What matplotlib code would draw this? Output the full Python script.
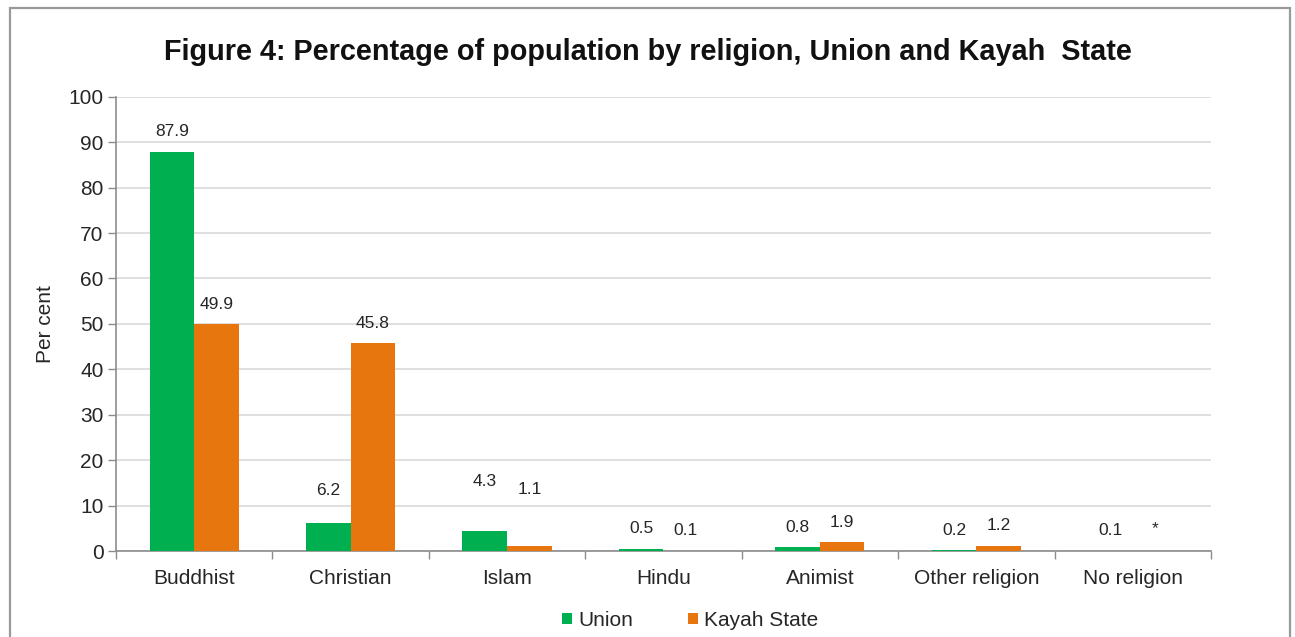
import matplotlib
matplotlib.use("Agg")
import matplotlib.pyplot as plt
from matplotlib.patches import Rectangle
import numpy as np

plt.rcParams['font.family'] = ['Liberation Sans', 'DejaVu Sans']

categories = ["Buddhist", "Christian", "Islam", "Hindu", "Animist",
              "Other religion", "No religion"]
union = [87.9, 6.2, 4.3, 0.5, 0.8, 0.2, 0.1]
kayah = [49.9, 45.8, 1.1, 0.1, 1.9, 1.2, 0.0]
union_labels = ["87.9", "6.2", "4.3", "0.5", "0.8", "0.2", "0.1"]
kayah_labels = ["49.9", "45.8", "1.1", "0.1", "1.9", "1.2", "*"]

GREEN = "#00B050"
ORANGE = "#E8760F"
GRID = "#D9D9D9"
AXIS = "#8C8C8C"
TEXT = "#262626"

fig = plt.figure(figsize=(12.95, 6.37), dpi=100)
ax = fig.add_axes([0.0896, 0.135, 0.8455, 0.713])

x = np.arange(len(categories))
w = 0.285
ax.bar(x - w / 2, union, width=w, color=GREEN, label="Union", zorder=3)
ax.bar(x + w / 2, kayah, width=w, color=ORANGE, label="Kayah State", zorder=3)

# extra lift for labels that were nudged upward
union_lift = {1: 2.8, 2: 6.5}
kayah_lift = {2: 8.0}
for i in range(len(categories)):
    ax.text(x[i] - w / 2, union[i] + 4.4 + union_lift.get(i, 0), union_labels[i],
            ha="center", va="center", fontsize=12.5, color=TEXT)
    ky = kayah[i] + 4.4 + kayah_lift.get(i, 0)
    if kayah_labels[i] == "*":
        ky += 0.6
    ax.text(x[i] + w / 2, ky, kayah_labels[i],
            ha="center", va="center", fontsize=12.5, color=TEXT)

ax.set_xlim(-0.5, len(categories) - 0.5)
ax.set_ylim(0, 100)
ax.set_yticks(np.arange(0, 101, 10))
ax.tick_params(axis="y", labelsize=15, colors=AXIS, labelcolor=TEXT,
               length=6, width=1, pad=3)
ax.set_xticks(x)
ax.set_xticklabels(categories, fontsize=15, color=TEXT)
ax.tick_params(axis="x", length=0, pad=13)
ax.set_xticks(np.arange(-0.5, len(categories), 1.0), minor=True)
ax.tick_params(axis="x", which="minor", length=6, width=1, colors=AXIS)

ax.grid(axis="y", color=GRID, linewidth=1.2, zorder=0)
for side in ["top", "right"]:
    ax.spines[side].set_visible(False)
for side in ["left", "bottom"]:
    ax.spines[side].set_color(AXIS)
    ax.spines[side].set_linewidth(1.2)

ax.set_ylabel("Per cent", fontsize=15, color=TEXT, labelpad=10)

fig.text(0.5, 0.919, "Figure 4: Percentage of population by religion, Union and Kayah  State",
         ha="center", va="center", fontsize=20.8, fontweight="bold", color="#111111")

ax.legend(loc="center", ncol=2, frameon=False, fontsize=15,
          handlelength=0.5, handleheight=0.5, handletextpad=0.3,
          columnspacing=2.6)
leg = ax.get_legend()
leg.set_bbox_to_anchor((0.533, 0.026), transform=fig.transFigure)
for t in leg.get_texts():
    t.set_color(TEXT)

frame = Rectangle((0.0077, -0.05), 0.9885, 1.0374, transform=fig.transFigure,
                  fill=False, edgecolor="#9A9A9A", linewidth=1.6)
fig.add_artist(frame)

fig.savefig("out.png", dpi=100)
